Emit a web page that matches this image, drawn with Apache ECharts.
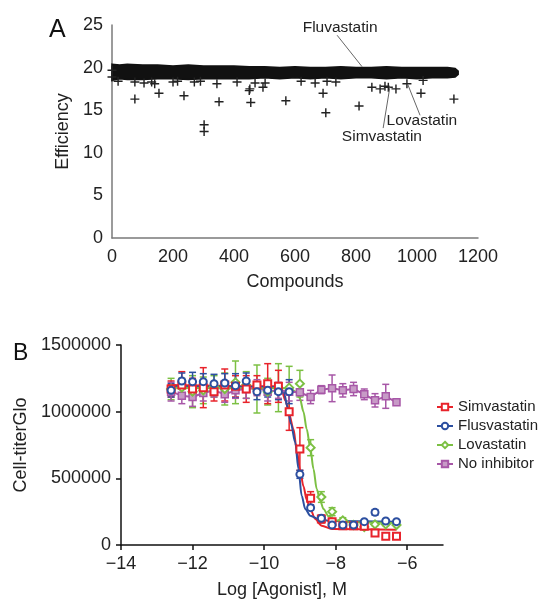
<!DOCTYPE html>
<html>
<head>
<meta charset="utf-8">
<script src="https://cdn.jsdelivr.net/npm/echarts@6/dist/echarts.min.js"></script>
<style>
html, body { margin: 0; padding: 0; background: #fff; }
#chart { width: 539px; height: 600px; }
</style>
</head>
<body>
<div id="chart"></div>
<script>
// ---- panel A: screen of ~1130 compounds ----
const bandX      = [0, 25, 50, 100, 150, 200, 250, 300, 350, 400, 450, 500, 550, 600, 650, 700, 750, 800, 850, 900, 950, 1000, 1050, 1100, 1125, 1135];
const bandTop    = [20.4, 20.3, 20.4, 20.3, 20.3, 20.2, 20.3, 20.2, 20.2, 20.2, 20.1, 20.1, 20.0, 20.1, 20.0, 20.0, 20.1, 20.0, 20.0, 20.1, 20.0, 20.0, 20.0, 20.0, 19.9, 19.6];
const bandBottom = [18.5, 18.7, 18.6, 18.6, 18.7, 18.7, 18.6, 18.7, 18.7, 18.7, 18.7, 18.8, 18.7, 18.8, 18.7, 18.8, 18.7, 18.8, 18.8, 18.7, 18.8, 18.7, 18.8, 18.8, 18.9, 19.2];
// single compounds falling out of the band
const outliers = [[0,18.9],[0,19.7],[20,18.4],[75,18.3],[75,16.3],[105,18.2],[130,18.3],[140,18.1],[154,17.0],
  [200,18.3],[215,18.4],[236,16.7],[270,18.3],[290,18.4],[302,13.3],[302,12.5],[344,18.1],[351,16.0],[410,18.3],
  [450,17.3],[452,17.5],[455,15.9],[469,18.2],[495,17.7],[502,18.2],[570,16.1],[620,18.4],[666,18.2],[692,17.0],
  [701,14.7],[705,18.4],[734,18.3],[810,15.5],[852,17.7],[879,17.5],[895,17.8],[906,17.7],[931,17.5],[967,18.1],
  [1013,17.0],[1020,18.5],[1121,16.3]];
// statin hits: compound point, leader end, label anchor
const hitNames  = ['Fluvastatin', 'Lovastatin', 'Simvastatin'];
const hitPoints = [[820, 20.1], [970, 18.0], [911, 17.7]];
const hitLineTo = [[738, 23.8], [1010, 14.4], [889, 12.9]];
const hitLabels = [[748, 24.65], [1016, 13.73], [885, 11.85]];

// ---- panel B: dose response ----
const logDose = [-12.6,-12.3,-12.0,-11.7,-11.4,-11.1,-10.8,-10.5,-10.2,-9.9,-9.6,-9.3,-9.0,-8.7,-8.4,-8.1,-7.8,-7.5,-7.2,-6.9,-6.6,-6.3];
const simva    = [1170000,1200000,1170000,1180000,1150000,1200000,1190000,1170000,1200000,1210000,1190000,1000000,720000,350000,195000,175000,145000,145000,140000,90000,65000,65000];
const simvaErr = [60000,100000,80000,150000,70000,120000,80000,100000,70000,150000,120000,140000,160000,50000,30000,20000,10000,10000,10000,20000,10000,10000];
const fluva    = [1160000,1230000,1225000,1225000,1210000,1215000,1195000,1230000,1150000,1160000,1150000,1150000,530000,280000,200000,150000,150000,150000,175000,245000,180000,175000];
const fluvaErr = [50000,60000,70000,60000,70000,70000,90000,60000,60000,50000,60000,90000,30000,20000,20000,10000,10000,10000,10000,20000,10000,10000];
const lova     = [1170000,1180000,1150000,1160000,1190000,1170000,1220000,1200000,1170000,1150000,1180000,1180000,1210000,730000,360000,250000,185000,150000,135000,155000,155000,150000];
const lovaErr  = [80000,70000,120000,100000,80000,120000,160000,100000,180000,100000,180000,160000,100000,60000,40000,30000,20000,10000,10000,10000,10000,10000];
const noInh    = [1150000,1120000,1110000,1140000,1160000,1130000,1160000,1170000,1180000,1150000,1160000,1150000,1145000,1110000,1165000,1175000,1160000,1170000,1130000,1085000,1115000,1070000];
const noInhErr = [70000,60000,70000,60000,50000,60000,60000,70000,60000,70000,60000,70000,60000,50000,30000,100000,50000,50000,40000,50000,90000,20000];
// fitted curves
const simvaFit = [[-12.7,1200000],[-9.7,1190000],[-9.5,1150000],[-9.4,1080000],[-9.3,980000],[-9.18,870000],[-9.09,720000],[-9.0,570000],[-8.9,440000],[-8.81,340000],[-8.71,270000],[-8.57,195000],[-8.39,145000],[-8.1,120000],[-6.3,115000]];
const fluvaFit = [[-12.7,1190000],[-9.6,1185000],[-9.45,1150000],[-9.35,1040000],[-9.25,910000],[-9.13,770000],[-9.04,570000],[-8.95,370000],[-8.85,270000],[-8.71,220000],[-8.48,195000],[-8.15,180000],[-6.3,175000]];
const lovaFit  = [[-12.7,1180000],[-9.3,1175000],[-9.1,1150000],[-9.0,1100000],[-8.9,1000000],[-8.81,870000],[-8.71,730000],[-8.62,570000],[-8.53,420000],[-8.43,330000],[-8.34,270000],[-8.2,215000],[-8.0,185000],[-7.7,170000],[-6.3,165000]];
const doseTicks = [-14, -12, -10, -8, -6];

const FONT = "'Liberation Sans', Arial, sans-serif";
const RED = '#e8232b', BLUE = '#2c4fa0', GREEN = '#7cc043', PURPLE = '#a757a7';
const PLUS = 'path://M4.2,0H5.8V4.2H10V5.8H5.8V10H4.2V5.8H0V4.2H4.2Z';

function errorBars(vals, errs, color) {
  return {
    type: 'custom', xAxisIndex: 1, yAxisIndex: 1, silent: true, z: 2,
    data: logDose.map((x, i) => [x, vals[i] - errs[i], vals[i] + errs[i]]),
    encode: { x: 0, y: [1, 2] },
    renderItem: function (params, api) {
      const lo = api.coord([api.value(0), api.value(1)]);
      const hi = api.coord([api.value(0), api.value(2)]);
      const w = 3.5;
      const st = { stroke: color, lineWidth: 1.5 };
      return {
        type: 'group', children: [
          { type: 'line', shape: { x1: lo[0], y1: lo[1], x2: hi[0], y2: hi[1] }, style: st },
          { type: 'line', shape: { x1: lo[0] - w, y1: lo[1], x2: lo[0] + w, y2: lo[1] }, style: st },
          { type: 'line', shape: { x1: hi[0] - w, y1: hi[1], x2: hi[0] + w, y2: hi[1] }, style: st }
        ]
      };
    }
  };
}

function fitLine(name, pts, color, symbol) {
  return {
    name: name, type: 'line', xAxisIndex: 1, yAxisIndex: 1, z: 3,
    data: pts, smooth: 0.3, smoothMonotone: 'x', showSymbol: false, symbol: symbol,
    lineStyle: { color: color, width: 2 },
    itemStyle: { color: color, borderWidth: 1.5 }
  };
}

function points(vals, color, symbol, size) {
  return {
    type: 'scatter', xAxisIndex: 1, yAxisIndex: 1, z: 4, silent: true,
    data: logDose.map((x, i) => [x, vals[i]]),
    symbol: symbol, symbolSize: size,
    itemStyle: { color: color, borderWidth: 1.8, opacity: 1 }
  };
}

const chart = echarts.init(document.getElementById('chart'));

const axisText = { color: '#222', fontSize: 18, fontFamily: FONT };

const option = {
  animation: false,
  title: [
    { text: 'A', left: 44, top: 13, textStyle: { fontSize: 25, fontWeight: 'normal', color: '#111', fontFamily: FONT } },
    { text: 'B', left: 8, top: 337, textStyle: { fontSize: 23, fontWeight: 'normal', color: '#111', fontFamily: FONT } }
  ],
  grid: [
    { left: 112, top: 25, width: 366, height: 213 },
    { left: 121, top: 345, width: 322, height: 201 }
  ],
  legend: {
    orient: 'vertical', left: 431, top: 394,
    itemWidth: 16, itemHeight: 8, itemGap: 3,
    data: ['Simvastatin', 'Flusvastatin', 'Lovastatin', 'No inhibitor'],
    textStyle: { fontSize: 15, fontFamily: FONT, color: '#222', lineHeight: 16 }
  },
  xAxis: [
    {
      gridIndex: 0, type: 'value', min: 0, max: 1200, interval: 200,
      name: 'Compounds', nameLocation: 'middle', nameGap: 35,
      nameTextStyle: axisText,
      axisLine: { lineStyle: { color: '#7a7a7a', width: 1.5 } },
      axisTick: { show: false }, splitLine: { show: false },
      axisLabel: Object.assign({ margin: 10, formatter: v => String(v) }, axisText)
    },
    {
      gridIndex: 1, type: 'value', min: -14, max: -5,
      name: 'Log [Agonist], M', nameLocation: 'middle', nameGap: 36,
      nameTextStyle: axisText,
      axisLine: { lineStyle: { color: '#111', width: 1.5 } },
      axisTick: { show: true, length: 5, lineStyle: { color: '#111', width: 1.5 }, customValues: doseTicks },
      splitLine: { show: false },
      axisLabel: Object.assign({ margin: 10, customValues: doseTicks,
        formatter: v => String(v).replace('-', '\u2212') }, axisText)
    }
  ],
  yAxis: [
    {
      gridIndex: 0, type: 'value', min: 0, max: 25, interval: 5,
      name: 'Efficiency', nameLocation: 'middle', nameGap: 35,
      nameTextStyle: axisText,
      axisLine: { show: true, lineStyle: { color: '#7a7a7a', width: 1.5 } },
      axisTick: { show: false }, splitLine: { show: false },
      axisLabel: Object.assign({ margin: 9 }, axisText)
    },
    {
      gridIndex: 1, type: 'value', min: 0, max: 1500000, interval: 500000,
      name: 'Cell-titerGlo', nameLocation: 'middle', nameGap: 80,
      nameTextStyle: axisText,
      axisLine: { show: true, lineStyle: { color: '#111', width: 1.5 } },
      axisTick: { show: true, length: 5, lineStyle: { color: '#111', width: 1.5 } },
      splitLine: { show: false },
      axisLabel: Object.assign({ margin: 10, formatter: v => String(v) }, axisText)
    }
  ],
  series: [
    // panel A band: polygon between lower and upper edge
    {
      type: 'custom', xAxisIndex: 0, yAxisIndex: 0, silent: true, z: 2,
      data: [[bandX[0], bandBottom[0]]],
      renderItem: function (params, api) {
        const pts = [];
        bandX.forEach((x, i) => pts.push(api.coord([x, bandTop[i]])));
        for (let i = bandX.length - 1; i >= 0; i--) pts.push(api.coord([bandX[i], bandBottom[i]]));
        return { type: 'polygon', shape: { points: pts }, style: { fill: '#111', stroke: '#111', lineWidth: 1.5 } };
      }
    },
    {
      type: 'scatter', xAxisIndex: 0, yAxisIndex: 0, silent: true, z: 3,
      data: outliers, symbol: PLUS, symbolSize: 9,
      itemStyle: { color: '#222', opacity: 1 },
      markLine: {
        symbol: 'none', silent: true, animation: false,
        lineStyle: { color: '#666', width: 1, type: 'solid' },
        label: { show: false },
        data: hitPoints.map((p, i) => [{ coord: p }, { coord: hitLineTo[i] }])
      },
      markPoint: {
        symbol: 'rect', symbolSize: 1, silent: true,
        itemStyle: { color: 'rgba(0,0,0,0)' },
        label: { show: true, position: 'inside', formatter: '{b}', fontSize: 15.5, fontFamily: FONT, color: '#222' },
        data: hitNames.map((n, i) => ({ name: n, coord: hitLabels[i] }))
      }
    },
    // panel B error bars
    errorBars(lova, lovaErr, GREEN),
    errorBars(simva, simvaErr, RED),
    errorBars(fluva, fluvaErr, BLUE),
    errorBars(noInh, noInhErr, PURPLE),
    // fitted curves (also drive the legend icons)
    fitLine('Simvastatin', simvaFit, RED, 'emptyRect'),
    fitLine('Flusvastatin', fluvaFit, BLUE, 'emptyCircle'),
    fitLine('Lovastatin', lovaFit, GREEN, 'emptyDiamond'),
    {
      name: 'No inhibitor', type: 'line', xAxisIndex: 1, yAxisIndex: 1, z: 3,
      data: logDose.map((x, i) => [x, noInh[i]]),
      symbol: 'rect', symbolSize: 7, showSymbol: true,
      lineStyle: { color: PURPLE, width: 2 },
      itemStyle: { color: '#c79ac6', borderColor: PURPLE, borderWidth: 1.5 }
    },
    points(lova, GREEN, 'emptyDiamond', 8),
    points(simva, RED, 'emptyRect', 7),
    points(fluva, BLUE, 'emptyCircle', 7)
  ]
};

chart.setOption(option);
</script>
</body>
</html>
